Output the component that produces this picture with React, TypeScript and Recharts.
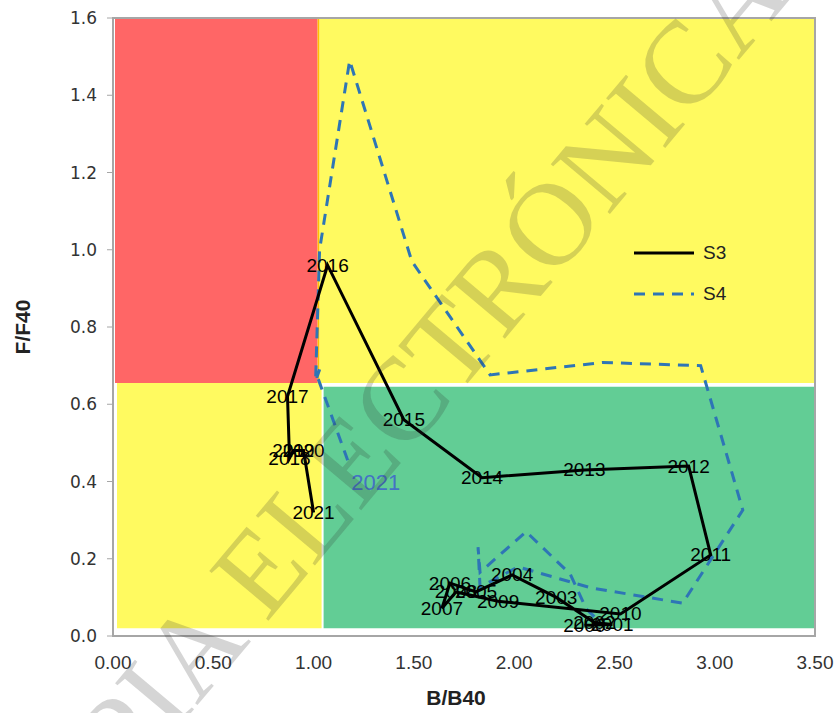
import { ScatterChart, Scatter, XAxis, YAxis, ReferenceArea, Legend } from 'recharts'

const years = [2000, 2001, 2002, 2003, 2004, 2005, 2006, 2007, 2008, 2009, 2010, 2011, 2012, 2013, 2014, 2015, 2016, 2017, 2018, 2019, 2020, 2021]

// S3 trajectory (B/B40, F/F40)
const s3B = [2.35, 2.49, 2.40, 2.21, 1.99, 1.81, 1.68, 1.64, 1.71, 1.92, 2.53, 2.98, 2.87, 2.35, 1.84, 1.45, 1.07, 0.87, 0.88, 0.90, 0.95, 1.00]
const s3F = [0.028, 0.03, 0.035, 0.10, 0.158, 0.114, 0.137, 0.072, 0.114, 0.09, 0.057, 0.21, 0.44, 0.43, 0.41, 0.56, 0.96, 0.62, 0.46, 0.48, 0.48, 0.32]

// S4 trajectory
const s4B = [2.40, 2.38, 2.36, 2.28, 2.06, 1.83, 1.82, 1.83, 2.02, 2.38, 2.84, 3.14, 2.93, 2.44, 1.88, 1.49, 1.18, 1.03, 1.01, 1.03, 1.02, 1.17]
const s4F = [0.05, 0.06, 0.07, 0.16, 0.27, 0.165, 0.23, 0.127, 0.179, 0.125, 0.085, 0.326, 0.70, 0.708, 0.676, 0.97, 1.49, 1.00, 0.66, 0.69, 0.67, 0.455]

const xTicks = [0, 0.5, 1, 1.5, 2, 2.5, 3, 3.5]
const yTicks = [0, 0.2, 0.4, 0.6, 0.8, 1.0, 1.2, 1.4, 1.6]

const s3 = years.map((year, i) => ({ year, x: s3B[i], y: s3F[i] }))
const s4 = years.map((year, i) => ({ year, x: s4B[i], y: s4F[i] }))

const FONT = '"Liberation Sans", Arial, sans-serif'
const BLUE = '#2E75B6'

const S3Label = (props: any) => (
  <text x={props.cx} y={props.cy} textAnchor="middle" dominantBaseline="central"
    fontFamily={FONT} fontSize={19} fill="#000">{props.payload.year}</text>
)

const S4Label = (props: any) =>
  props.payload.year === 2021 ? (
    <text x={props.cx + 28} y={props.cy + 22} textAnchor="middle" dominantBaseline="central"
      fontFamily={FONT} fontSize={22} fill="#4472C4">{props.payload.year}</text>
  ) : <g />

const YTitle = () => (
  <text x={22} y={327} transform="rotate(-90 22 327)" textAnchor="middle" dominantBaseline="central"
    fontFamily={FONT} fontWeight="bold" fontSize={21} fill="#222">F/F40</text>
)

const XTitle = () => (
  <text x={456} y={697} textAnchor="middle" dominantBaseline="central"
    fontFamily={FONT} fontWeight="bold" fontSize={21} fill="#222">B/B40</text>
)

const LegendBox = () => (
  <div style={{ fontFamily: FONT, fontSize: 19, color: '#222' }}>
    {[{ name: 'S3', stroke: '#000', dash: undefined }, { name: 'S4', stroke: BLUE, dash: '11 8' }].map(r => (
      <div key={r.name} style={{ display: 'flex', alignItems: 'center', height: 41 }}>
        <svg width={62} height={8}>
          <line x1={1} x2={61} y1={4} y2={4} stroke={r.stroke} strokeWidth={3} strokeDasharray={r.dash} />
        </svg>
        <span style={{ marginLeft: 8 }}>{r.name}</span>
      </div>
    ))}
  </div>
)

export default function App() {
  return (
    <div style={{ position: 'absolute', left: 0, top: 0, width: 839, height: 713, background: '#fff' }}>
      <ScatterChart width={839} height={713} margin={{ top: 18, right: 24, bottom: 0, left: 0 }}>
        <XAxis type="number" dataKey="x" domain={[0, 3.5]} ticks={xTicks} height={77}
          tickFormatter={(v: number) => v.toFixed(2)} tickLine={false} tickMargin={14}
          axisLine={{ stroke: '#a6a6a6', strokeWidth: 2 }}
          tick={{ fontFamily: FONT, fontSize: 19, fill: '#333' }} label={<XTitle />} />
        <YAxis type="number" dataKey="y" domain={[0, 1.6]} ticks={yTicks} width={113}
          tickFormatter={(v: number) => v.toFixed(1)} tickSize={6} tickMargin={10}
          axisLine={{ stroke: '#a6a6a6', strokeWidth: 2 }} tickLine={{ stroke: '#a6a6a6' }}
          tick={{ fontFamily: '"DejaVu Sans", sans-serif', fontSize: 17, fill: '#333' }} label={<YTitle />} />

        <ReferenceArea x1={0.01} x2={1.02} y1={0.655} y2={1.6} fill="#FF6666" fillOpacity={1} />
        <ReferenceArea x1={1.02} x2={1.03} y1={0.655} y2={1.6} fill="#FFC000" fillOpacity={1} />
        <ReferenceArea x1={1.03} x2={3.5} y1={0.655} y2={1.6} fill="#FFFA60" fillOpacity={1} />
        <ReferenceArea x1={0.02} x2={1.04} y1={0.02} y2={0.655} fill="#FFFA60" fillOpacity={1} />
        <ReferenceArea x1={1.05} x2={3.5} y1={0.02} y2={0.645} fill="#62CD95" fillOpacity={1} />
        <ReferenceArea x1={0} x2={3.5} y1={0} y2={1.6} fill="none" stroke="#a6a6a6" strokeWidth={2} />

        <Scatter name="S4" data={s4} isAnimationActive={false} shape={S4Label}
          line={{ stroke: BLUE, strokeWidth: 3, strokeDasharray: '11 8' }} />
        <Scatter name="S3" data={s3} isAnimationActive={false} shape={S3Label}
          line={{ stroke: '#000', strokeWidth: 3 }} />

        <Legend layout="horizontal" verticalAlign="middle" content={<LegendBox />}
          wrapperStyle={{ left: 633, top: 232, width: 130, height: 84 }} />
      </ScatterChart>
      <svg width={839} height={713} style={{ position: 'absolute', left: 0, top: 0, pointerEvents: 'none' }}>
        <text x={24} y={912} transform="rotate(-50 24 912)" fontFamily='"Liberation Serif", serif'
          fontSize={118} fill="#2d2d2d" fillOpacity={0.2}>COPIA ELECTRÓNICA</text>
      </svg>
    </div>
  )
}
